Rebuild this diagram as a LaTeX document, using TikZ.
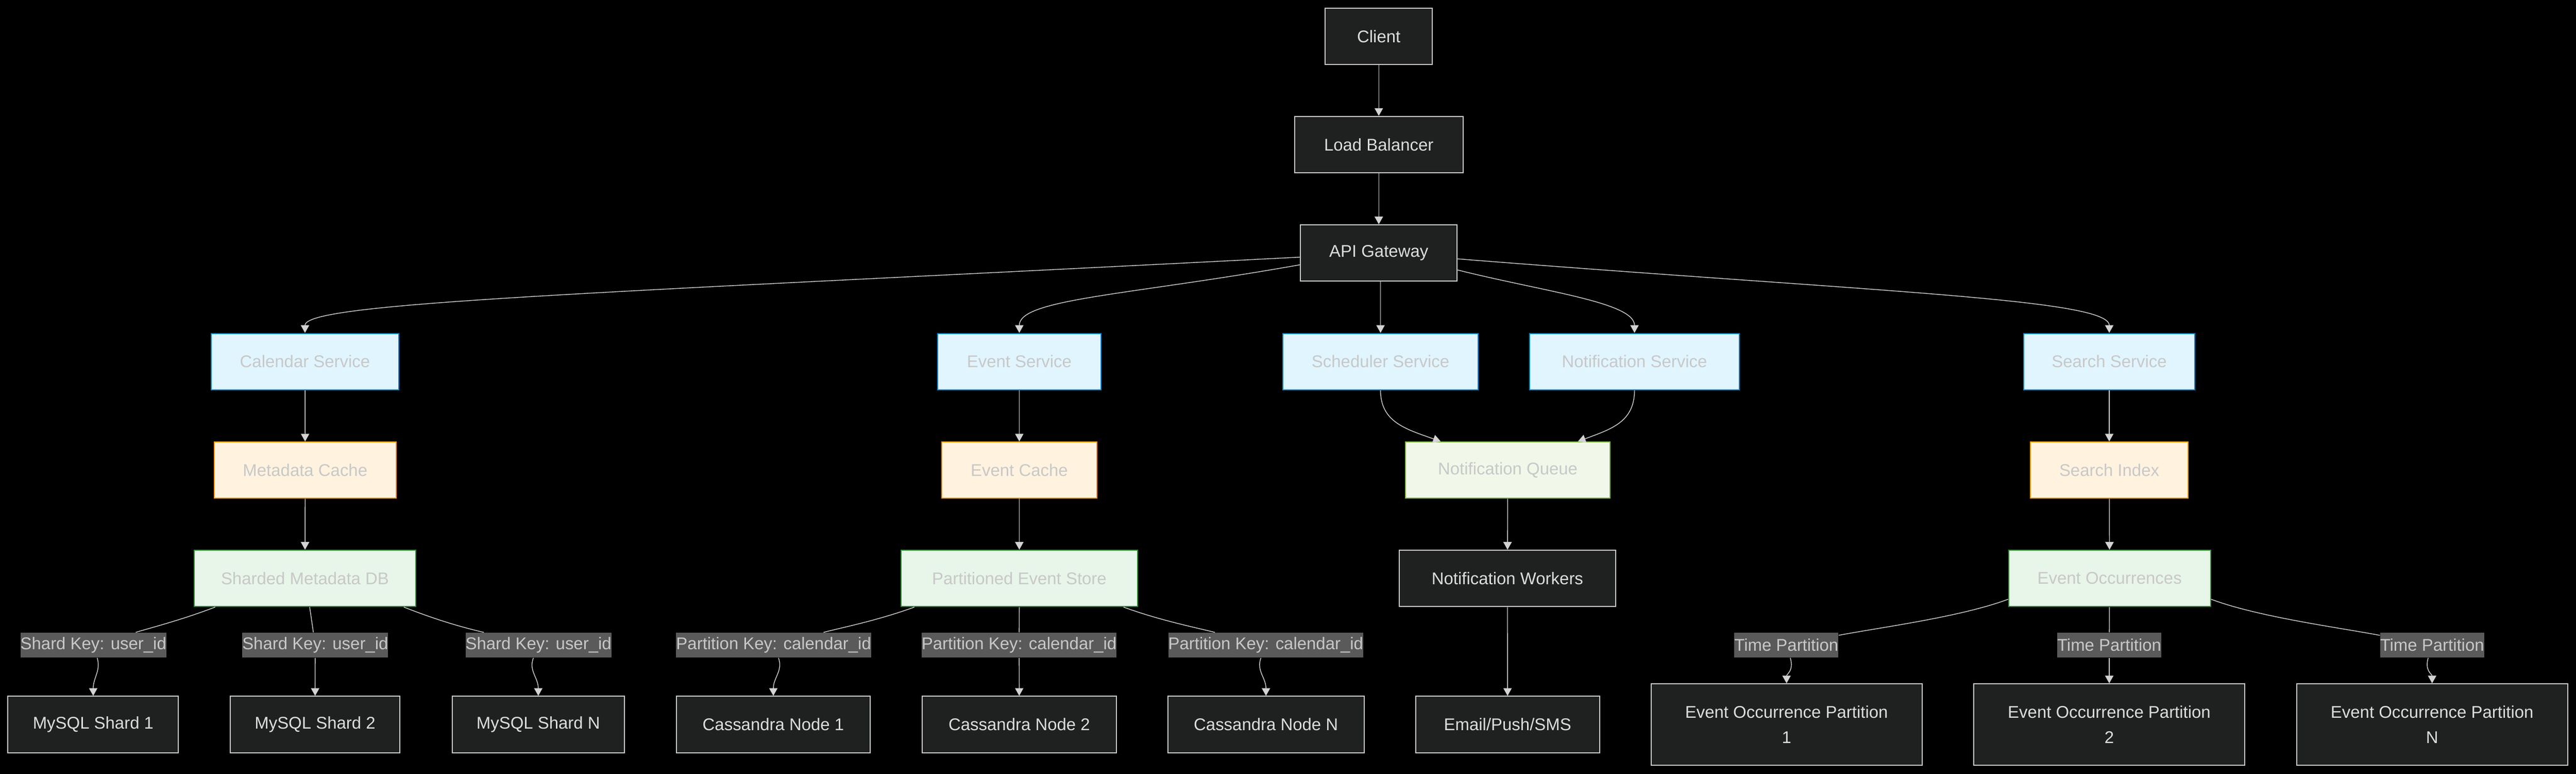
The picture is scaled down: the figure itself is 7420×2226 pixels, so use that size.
\documentclass[tikz,border=0pt]{standalone}
\usepackage{fontspec}
\setmainfont{Liberation Sans}
\usepackage{xcolor}
\usepackage{tikz}
\usetikzlibrary{arrows.meta,calc}

\definecolor{nodefill}{HTML}{1F2020}
\definecolor{nodeline}{HTML}{CCCCCC}
\definecolor{plaintext}{HTML}{DDDDDD}
\definecolor{softtext}{HTML}{C8C8C8}
\definecolor{wirecol}{HTML}{D3D3D3}
\definecolor{keyfill}{HTML}{5A5A5A}
\definecolor{svcfill}{HTML}{E1F5FE}
\definecolor{svcline}{HTML}{0288D1}
\definecolor{cachefill}{HTML}{FFF3E0}
\definecolor{cacheline}{HTML}{FF9800}
\definecolor{storefill}{HTML}{E8F5E9}
\definecolor{storeline}{HTML}{388E3C}
\definecolor{queuefill}{HTML}{F1F8E9}
\definecolor{queueline}{HTML}{7CB342}

\begin{document}
\begin{tikzpicture}[x=0.01cm,y=-0.01cm,font=\fontsize{13.9}{20.5}\selectfont,
    nbox/.style={rectangle,line width=0.85pt,minimum height=1.62cm,inner sep=0pt},
    plainbox/.style={nbox,fill=nodefill,draw=nodeline,text=plaintext},
    svcbox/.style={nbox,fill=svcfill,draw=svcline,text=softtext},
    cachebox/.style={nbox,fill=cachefill,draw=cacheline,text=softtext},
    storebox/.style={nbox,fill=storefill,draw=storeline,text=softtext},
    queuebox/.style={nbox,fill=queuefill,draw=queueline,text=softtext},
    keylabel/.style={rectangle,fill=keyfill,text=softtext,inner xsep=0pt,inner ysep=0pt,minimum height=0.72cm},
    wire/.style={draw=wirecol,line width=0.6pt},
    wirearr/.style={wire,-{Triangle[length=0.22cm,width=0.24cm]}}]

    % Background
    \useasboundingbox (0,0) rectangle (7420,2226);
    \fill[black] (-20,-20) rectangle (7440,2246);

    % Entry chain
    \node[plainbox,minimum width=3.09cm] (client) at (3971.5,104.5) {Client};
    \node[plainbox,minimum width=4.85cm] (lb) at (3971.5,416) {Load Balancer};
    \node[plainbox,minimum width=4.51cm] (api) at (3971.5,728) {API Gateway};

    % Services
    \node[svcbox,minimum width=5.41cm] (cal) at (878.5,1040.5) {Calendar Service};
    \node[svcbox,minimum width=4.70cm] (evs) at (2936,1040.5) {Event Service};
    \node[svcbox,minimum width=5.61cm] (sch) at (3976.5,1040.5) {Scheduler Service};
    \node[svcbox,minimum width=6.04cm] (nts) at (4708,1040.5) {Notification Service};
    \node[svcbox,minimum width=4.93cm] (srs) at (6075.5,1040.5) {Search Service};

    % Caches and queue
    \node[cachebox,minimum width=5.24cm] (mdc) at (879,1353) {Metadata Cache};
    \node[cachebox,minimum width=4.46cm] (evc) at (2936,1353) {Event Cache};
    \node[queuebox,minimum width=5.88cm] (nq) at (4343,1353) {Notification Queue};
    \node[cachebox,minimum width=4.55cm] (sidx) at (6075.5,1353) {Search Index};

    % Stores
    \node[storebox,minimum width=6.39cm] (smdb) at (878.5,1664.5) {Sharded Metadata DB};
    \node[storebox,minimum width=6.82cm] (pes) at (2936,1664.5) {Partitioned Event Store};
    \node[plainbox,minimum width=6.22cm] (nw) at (4342,1664.5) {Notification Workers};
    \node[storebox,minimum width=5.81cm] (eocc) at (6076.5,1664.5) {Event Occurrences};

    % Edge labels
    \node[keylabel] (k1) at (269,1856.5) {Shard Key: user\_id};
    \node[keylabel] (k2) at (908,1856.5) {Shard Key: user\_id};
    \node[keylabel] (k3) at (1551,1856.5) {Shard Key: user\_id};
    \node[keylabel] (p1) at (2228.5,1856.5) {Partition Key: calendar\_id};
    \node[keylabel] (p2) at (2935.5,1856.5) {Partition Key: calendar\_id};
    \node[keylabel] (p3) at (3646,1856.5) {Partition Key: calendar\_id};
    \node[keylabel] (t1) at (5145.5,1856.5) {Time Partition};
    \node[keylabel] (t2) at (6075.5,1856.5) {Time Partition};
    \node[keylabel] (t3) at (7005.5,1856.5) {Time Partition};

    % Bottom row
    \node[plainbox,minimum width=4.91cm] (ms1) at (268.5,2085) {MySQL Shard 1};
    \node[plainbox,minimum width=4.89cm] (ms2) at (907.5,2085) {MySQL Shard 2};
    \node[plainbox,minimum width=4.95cm] (ms3) at (1550.5,2085) {MySQL Shard N};
    \node[plainbox,minimum width=5.59cm] (cn1) at (2227.5,2085) {Cassandra Node 1};
    \node[plainbox,minimum width=5.58cm] (cn2) at (2936,2085) {Cassandra Node 2};
    \node[plainbox,minimum width=5.65cm] (cn3) at (3646.5,2085) {Cassandra Node N};
    \node[plainbox,minimum width=5.29cm] (eps) at (4342.5,2085) {Email/Push/SMS};
    \node[plainbox,minimum width=7.80cm,minimum height=2.34cm,align=center] (eop1) at (5146,2085) {Event Occurrence Partition\\1};
    \node[plainbox,minimum width=7.80cm,minimum height=2.34cm,align=center] (eop2) at (6075.5,2085) {Event Occurrence Partition\\2};
    \node[plainbox,minimum width=7.80cm,minimum height=2.34cm,align=center] (eop3) at (7005.5,2085) {Event Occurrence Partition\\N};

    % Top links
    \draw[wirearr] (client) -- (lb);
    \draw[wirearr] (lb) -- (api);
    \draw[wirearr] ($(api.west)+(0,12)$) .. controls (1700,845) and (878.5,870) .. (cal.north);
    \draw[wirearr] ($(api.west)+(0,34)$) .. controls (3250,850) and (2936,860) .. (evs.north);
    \draw[wirearr] (api.south -| sch.north) -- (sch.north);
    \draw[wirearr] ($(api.east)+(0,49)$) .. controls (4450,840) and (4708,870) .. (nts.north);
    \draw[wirearr] ($(api.east)+(0,17)$) .. controls (5400,840) and (6075.5,860) .. (srs.north);

    % Service chains
    \draw[wirearr] (cal) -- (mdc);
    \draw[wirearr] (mdc) -- (smdb);
    \draw[wirearr] (evs) -- (evc);
    \draw[wirearr] (evc) -- (pes);
    \draw[wirearr] (sch.south) .. controls (3976.5,1215) and (4050,1235) .. ($(nq.north)+(-193,0)$);
    \draw[wirearr] (nts.south) .. controls (4708,1215) and (4640,1235) .. ($(nq.north)+(202,0)$);
    \draw[wirearr] (nq) -- (nw);
    \draw[wirearr] (nw) -- (eps);
    \draw[wirearr] (srs) -- (sidx);
    \draw[wirearr] (sidx) -- (eocc);

    % Shards
    \draw[wire] ($(smdb.south)+(-258.5,0)$) .. controls (520,1785) and (440,1805) .. (k1);
    \draw[wirearr] (k1) .. controls (291,1930) and (268.5,1950) .. (ms1.north);
    \draw[wire] ($(smdb.south)+(13.5,0)$) -- (k2);
    \draw[wirearr] (k2) -- (ms2);
    \draw[wire] ($(smdb.south)+(284.5,0)$) .. controls (1260,1785) and (1330,1805) .. (k3);
    \draw[wirearr] (k3) .. controls (1522,1930) and (1550.5,1950) .. (ms3.north);

    % Cassandra nodes
    \draw[wire] ($(pes.south)+(-302,0)$) .. controls (2530,1785) and (2430,1805) .. (p1);
    \draw[wirearr] (p1) .. controls (2256,1930) and (2227.5,1950) .. (cn1.north);
    \draw[wire] (pes) -- (p2);
    \draw[wirearr] (p2) -- (cn2);
    \draw[wire] ($(pes.south)+(300,0)$) .. controls (3340,1785) and (3440,1805) .. (p3);
    \draw[wirearr] (p3) .. controls (3618,1930) and (3646.5,1950) .. (cn3.north);

    % Occurrence partitions
    \draw[wire] ($(eocc.west)+(0,60)$) .. controls (5650,1775) and (5420,1805) .. (t1);
    \draw[wirearr] (t1) .. controls (5168,1930) and (5146,1940) .. (eop1.north);
    \draw[wire] (eocc) -- (t2);
    \draw[wirearr] (t2) -- (eop2);
    \draw[wire] ($(eocc.east)+(0,60)$) .. controls (6503,1775) and (6730,1805) .. (t3);
    \draw[wirearr] (t3) .. controls (6983,1930) and (7005.5,1940) .. (eop3.north);

\end{tikzpicture}
\end{document}
